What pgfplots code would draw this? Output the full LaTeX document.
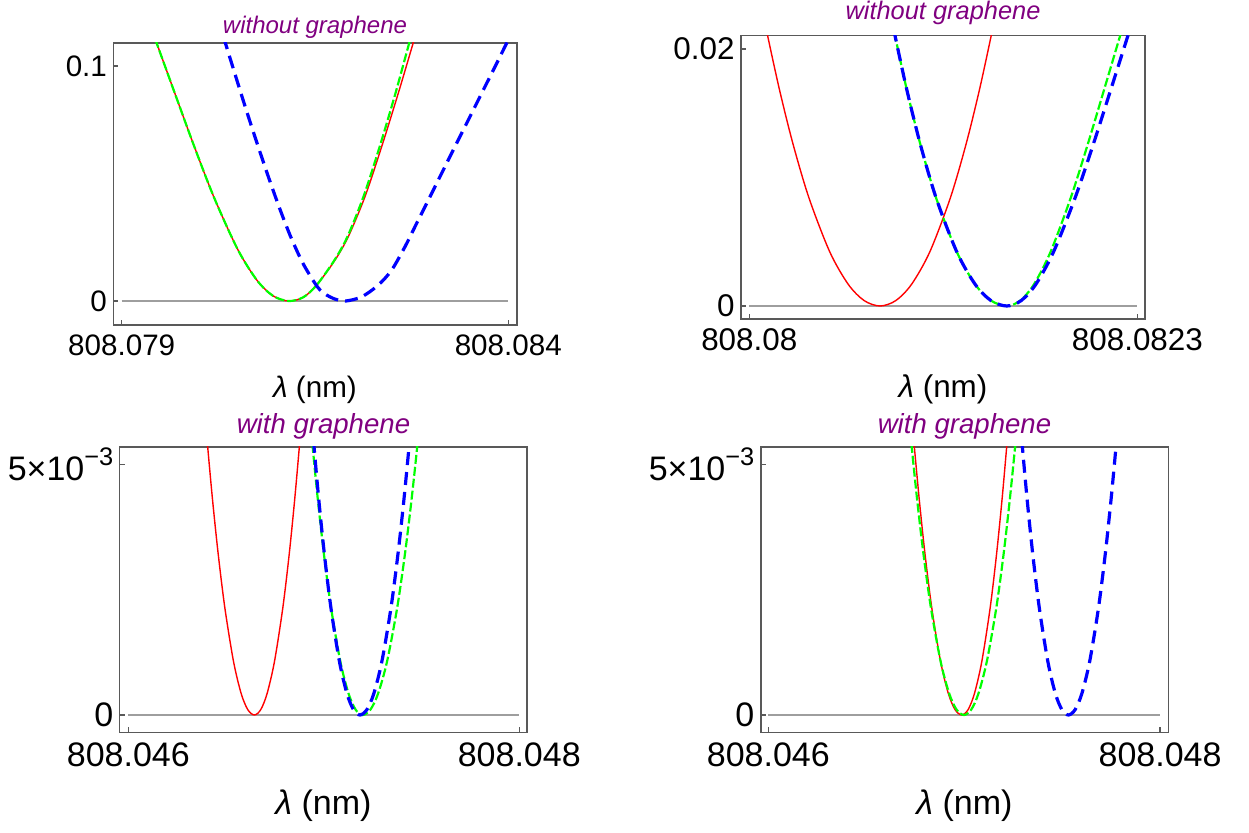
\documentclass[border=0pt]{standalone}
\usepackage{fontspec}
\setmainfont{Liberation Sans}
\usepackage{pgfplots}
\pgfplotsset{compat=1.18}

\definecolor{mred}{rgb}{1,0,0}
\definecolor{mgreen}{rgb}{0,1,0}
\definecolor{mblue}{rgb}{0,0,1}
\definecolor{mpurple}{rgb}{0.5,0,0.5}
\definecolor{framegray}{gray}{0.35}
\definecolor{axisgray}{gray}{0.62}

\newcommand{\expo}{5×10\raisebox{0.42em}{\fontsize{12.7}{14}\selectfont −3}}

% x values are offsets from the left tick wavelength, in pm (1e-3 nm)
\pgfplotsset{
  panel/.style={
    scale only axis, anchor=south west,
    axis line style={framegray, line width=0.8pt},
    tick style={framegray, line width=0.6pt},
    major tick length=2.5pt,
    tick align=inside,
    tick pos=left,
    scaled ticks=false,
    ticklabel style={font=\fontsize{#1}{#1}\selectfont, text=black},
    yticklabel style={anchor=east, inner sep=0pt, xshift=-3pt},
    xticklabel style={anchor=base, inner sep=0pt},
    xlabel={\textit{λ} (nm)},
    xlabel style={font=\fontsize{#1}{#1}\selectfont, at={(axis description cs:0.5,0)}, anchor=base, inner sep=0pt},
    title style={at={(axis description cs:0.5,1)}, anchor=base, inner sep=0pt, text=mpurple},
  },
  rcurve/.style={mred, line width=0.7pt, smooth},
  gcurve/.style={mgreen, line width=1.1pt, dash pattern=on 4.5pt off 1.5pt, smooth},
  bcurve/.style={mblue, line width=1.6pt, dash pattern=on 6.5pt off 3.5pt, smooth},
  zline/.style={axisgray, line width=0.6pt},
}

\begin{document}
\begin{tikzpicture}
\path[use as bounding box] (0,0) rectangle (624.5pt,416pt);

% ---- top left: without graphene, 808.079 ... 808.084 nm ----
\begin{axis}[panel=14.8,
  at={(56.65pt,253.5pt)}, width=201.7pt, height=141.15pt,
  xmin=-0.1086, xmax=5.109, ymin=-0.0102, ymax=0.1099,
  xtick={0,5}, xticklabels={808.079,808.084},
  ytick={0,0.1}, yticklabels={0,0.1},
  xticklabel style={yshift=-15pt},
  xlabel style={yshift=-36pt},
  title style={yshift=-1.3pt},
  title={\fontsize{12}{14}\selectfont\itshape without graphene}]
\addplot[zline] coordinates {(0,0) (5,0)};
\addplot[rcurve] coordinates {
(0.3256,0.121)(0.449,0.11)(0.6915,0.088)(0.9358,0.066)(1.1952,0.044)(1.4999,0.022)
(1.7504,0.0088)(1.9571,0.0022)(2.16,0)(2.3487,0.0016)(2.522,0.0068)(2.7587,0.0174)
(2.9307,0.0274)(3.1466,0.0444)(3.3627,0.0657)(3.5773,0.0884)(3.7713,0.1099)(3.832,0.1162)};
\addplot[gcurve] coordinates {
(0.3256,0.121)(0.449,0.11)(0.6915,0.088)(0.9358,0.066)(1.1952,0.044)(1.4999,0.022)
(1.7504,0.0088)(1.9571,0.0022)(2.16,0)(2.3487,0.0016)(2.522,0.0068)(2.752,0.0174)
(2.92,0.0274)(3.127,0.0444)(3.337,0.0657)(3.541,0.0884)(3.72,0.1099)(3.78,0.1162)};
\addplot[bcurve] coordinates {
(1.319,0.1125)(1.336,0.1103)(1.462,0.0969)(1.597,0.0827)(1.737,0.0685)(1.882,0.0543)
(2.035,0.0401)(2.185,0.0274)(2.345,0.016)(2.515,0.0068)(2.615,0.0033)(2.76,0.0008)
(2.895,0)(3.104,0.0018)(3.319,0.0068)(3.492,0.0132)(3.664,0.0231)(3.793,0.0316)
(4.009,0.0458)(4.224,0.06)(4.44,0.0742)(4.656,0.0884)(4.85,0.1011)(4.979,0.1097)(5.022,0.1125)};
\end{axis}

% ---- top right: without graphene, 808.08 ... 808.0823 nm ----
\begin{axis}[panel=15.7,
  at={(370.5pt,256.65pt)}, width=202pt, height=141.5pt,
  xmin=-0.0492, xmax=2.345, ymin=-0.000988, ymax=0.02103,
  xtick={0,2.3}, xticklabels={808.08,808.0823},
  ytick={0,0.02}, yticklabels={0,0.02},
  xticklabel style={yshift=-15.65pt},
  xlabel style={yshift=-39.2pt},
  title style={yshift=1.85pt},
  title={\fontsize{12.7}{14}\selectfont\itshape without graphene}]
\addplot[zline] coordinates {(0,0) (2.3,0)};
\addplot[rcurve] coordinates {
(0.0765,0.0231)(0.109,0.021)(0.1793,0.0168)(0.2591,0.0126)(0.3538,0.0084)(0.4772,0.0042)
(0.5867,0.00168)(0.6808,0.00042)(0.775,0)(0.868,0.00042)(0.9611,0.00168)(1.0693,0.0042)
(1.1912,0.0084)(1.2847,0.0126)(1.3635,0.0168)(1.433,0.021)(1.4651,0.0231)};
\addplot[gcurve] coordinates {
(0.8317,0.0231)(0.864,0.021)(0.9339,0.0168)(1.0132,0.0126)(1.1073,0.0084)(1.23,0.0042)
(1.3388,0.00168)(1.4324,0.00042)(1.526,0)(1.6056,0.00042)(1.6866,0.00168)(1.7849,0.0042)
(1.9044,0.0084)(2.0061,0.0126)(2.1019,0.0168)(2.197,0.021)(2.2454,0.0231)};
\addplot[bcurve] coordinates {
(0.8317,0.0231)(0.864,0.021)(0.9339,0.0168)(1.0132,0.0126)(1.1073,0.0084)(1.23,0.0042)
(1.3388,0.00168)(1.4324,0.00042)(1.526,0)(1.611,0.00042)(1.6976,0.00168)(1.8026,0.0042)
(1.9303,0.0084)(2.039,0.0126)(2.1414,0.0168)(2.243,0.021)(2.2947,0.0231)};
\end{axis}

% ---- bottom left: with graphene, 808.046 ... 808.048 nm ----
\begin{axis}[panel=17,
  at={(59.85pt,49.85pt)}, width=203.8pt, height=142.8pt,
  xmin=-0.044, xmax=2.041, ymin=-0.000345, ymax=0.005351,
  xtick={0,2}, xticklabels={808.046,808.048},
  ytick={0,0.005}, yticklabels={0,\expo},
  xticklabel style={yshift=-17.3pt},
  xlabel style={yshift=-41.3pt},
  title style={yshift=0.85pt},
  title={\fontsize{13.8}{15}\selectfont\itshape with graphene}]
\addplot[zline] coordinates {(0,0) (2,0)};
\addplot[rcurve] coordinates {
(0.3943,0.005885)(0.406,0.00535)(0.4312,0.00428)(0.4599,0.00321)(0.4938,0.00214)(0.5381,0.00107)
(0.5774,0.000428)(0.6112,0.000107)(0.645,0)(0.6775,0.000107)(0.71,0.000428)(0.7479,0.00107)
(0.7905,0.00214)(0.8232,0.00321)(0.8507,0.00428)(0.875,0.00535)(0.8862,0.005885)};
\addplot[gcurve] coordinates {
(0.9305,0.005885)(0.943,0.00535)(0.97,0.00428)(1.0007,0.00321)(1.0371,0.00214)(1.0845,0.00107)
(1.1266,0.000428)(1.1628,0.000107)(1.199,0)(1.2385,0.000107)(1.2779,0.000428)(1.3238,0.00107)
(1.3755,0.00214)(1.4151,0.00321)(1.4485,0.00428)(1.478,0.00535)(1.4916,0.005885)};
\addplot[bcurve] coordinates {
(0.9385,0.005885)(0.95,0.00535)(0.9748,0.00428)(1.003,0.00321)(1.0364,0.00214)(1.0799,0.00107)
(1.1185,0.000428)(1.1518,0.000107)(1.185,0)(1.2205,0.000107)(1.256,0.000428)(1.2972,0.00107)
(1.3438,0.00214)(1.3794,0.00321)(1.4095,0.00428)(1.436,0.00535)(1.4482,0.005885)};
\end{axis}

% ---- bottom right: with graphene, 808.046 ... 808.048 nm ----
\begin{axis}[panel=17,
  at={(380.35pt,49.85pt)}, width=203.8pt, height=142.8pt,
  xmin=-0.0388, xmax=2.042, ymin=-0.000345, ymax=0.005351,
  xtick={0,2}, xticklabels={808.046,808.048},
  ytick={0,0.005}, yticklabels={0,\expo},
  xticklabel style={yshift=-17.3pt},
  xlabel style={yshift=-41.3pt},
  title style={yshift=0.85pt},
  title={\fontsize{13.8}{15}\selectfont\itshape with graphene}]
\addplot[zline] coordinates {(0,0) (2,0)};
\addplot[rcurve] coordinates {
(0.7337,0.005885)(0.7455,0.00535)(0.7711,0.00428)(0.8,0.00321)(0.8344,0.00214)(0.8793,0.00107)
(0.9191,0.000428)(0.9533,0.000107)(0.9875,0)(1.02,0.000107)(1.0524,0.000428)(1.0901,0.00107)
(1.1327,0.00214)(1.1653,0.00321)(1.1928,0.00428)(1.217,0.00535)(1.2282,0.005885)};
\addplot[gcurve] coordinates {
(0.719,0.005885)(0.732,0.00535)(0.7602,0.00428)(0.7922,0.00321)(0.8301,0.00214)(0.8796,0.00107)
(0.9235,0.000428)(0.9612,0.000107)(0.999,0)(1.0359,0.000107)(1.0728,0.000428)(1.1157,0.00107)
(1.1641,0.00214)(1.2012,0.00321)(1.2324,0.00428)(1.26,0.00535)(1.2727,0.005885)};
\addplot[bcurve] coordinates {
(1.2855,0.005885)(1.297,0.00535)(1.3218,0.00428)(1.35,0.00321)(1.3834,0.00214)(1.4269,0.00107)
(1.4655,0.000428)(1.4988,0.000107)(1.532,0)(1.5664,0.000107)(1.6007,0.000428)(1.6407,0.00107)
(1.6857,0.00214)(1.7202,0.00321)(1.7493,0.00428)(1.775,0.00535)(1.7869,0.005885)};
\end{axis}
\end{tikzpicture}
\end{document}
